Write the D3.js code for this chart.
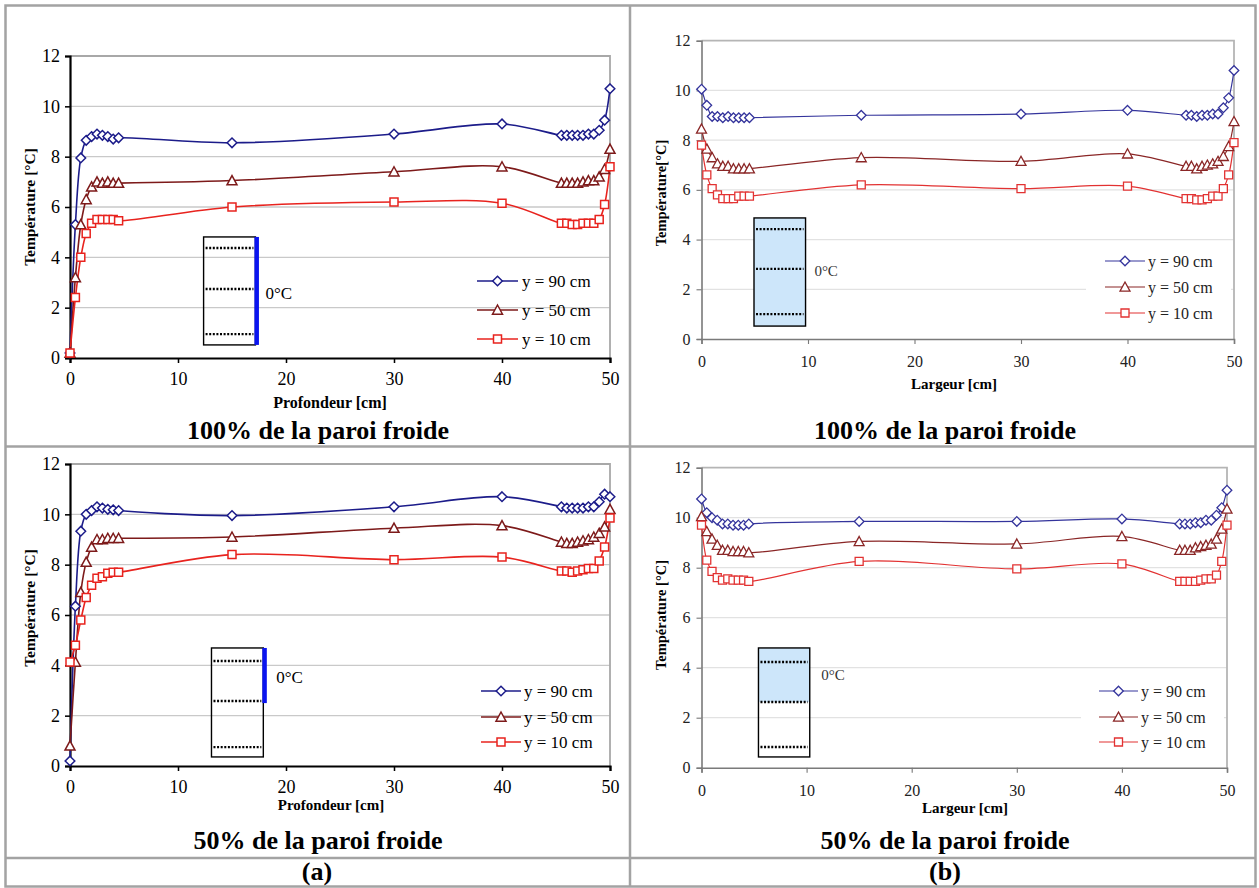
<!DOCTYPE html>
<html>
<head>
<meta charset="utf-8">
<script src="https://cdn.jsdelivr.net/npm/d3@7"></script>
<style>
  html, body { margin: 0; padding: 0; background: #fff; }
  svg { display: block; }
  svg text { font-family: "Liberation Serif", "Times New Roman", Times, "DejaVu Serif", serif; }
</style>
</head>
<body>
<svg id="chart" width="1259" height="888"></svg>
<script>
// ---------------- DATA ----------------
const xPositions = [0, 0.5, 1, 1.5, 2, 2.5, 3, 3.5, 4, 4.5, 15, 30, 40, 45.5, 46, 46.5, 47, 47.5, 48, 48.5, 49, 49.5, 50];
const yTicks = [0, 2, 4, 6, 8, 10, 12];
const xTicks = [0, 10, 20, 30, 40, 50];
const seriesNames = ["y = 90 cm", "y = 50 cm", "y = 10 cm"];

// (a) Profondeur, 100% de la paroi froide
const a100_y90 = [0.2, 5.3, 7.95, 8.65, 8.8, 8.9, 8.85, 8.8, 8.7, 8.75, 8.55, 8.9, 9.3, 8.85, 8.85, 8.85, 8.85, 8.85, 8.9, 8.9, 9.05, 9.45, 10.7];
const a100_y50 = [0.2, 3.2, 5.3, 6.3, 6.8, 7.0, 6.95, 7.0, 6.95, 6.95, 7.05, 7.4, 7.6, 6.95, 6.95, 6.95, 6.95, 7.0, 7.05, 7.05, 7.2, 7.5, 8.3];
const a100_y10 = [0.2, 2.4, 4.0, 4.95, 5.35, 5.5, 5.5, 5.5, 5.5, 5.45, 6.0, 6.2, 6.15, 5.35, 5.35, 5.3, 5.3, 5.35, 5.35, 5.35, 5.5, 6.1, 7.6];

// (b) Largeur, 100% de la paroi froide
const b100_y90 = [10.05, 9.4, 8.95, 8.95, 8.9, 8.95, 8.9, 8.9, 8.9, 8.9, 9.0, 9.05, 9.2, 9.0, 9.0, 8.95, 9.0, 9.0, 9.05, 9.05, 9.3, 9.7, 10.8];
const b100_y50 = [8.45, 7.65, 7.3, 7.05, 6.95, 6.95, 6.85, 6.85, 6.85, 6.85, 7.3, 7.15, 7.45, 6.95, 6.95, 6.85, 6.95, 7.0, 7.05, 7.15, 7.35, 7.75, 8.75];
const b100_y10 = [7.8, 6.6, 6.05, 5.8, 5.65, 5.65, 5.65, 5.75, 5.75, 5.75, 6.2, 6.05, 6.15, 5.65, 5.65, 5.6, 5.6, 5.65, 5.75, 5.75, 6.05, 6.6, 7.9];

// (a) Profondeur, 50% de la paroi froide
const a50_y90 = [0.2, 6.35, 9.33, 10.0, 10.15, 10.3, 10.25, 10.2, 10.18, 10.15, 9.95, 10.3, 10.7, 10.3, 10.25, 10.25, 10.25, 10.25, 10.3, 10.3, 10.5, 10.8, 10.7];
const a50_y50 = [0.8, 4.13, 6.9, 8.1, 8.7, 9.0, 9.0, 9.05, 9.05, 9.05, 9.1, 9.45, 9.55, 8.9, 8.85, 8.85, 8.9, 8.95, 9.0, 9.1, 9.25, 9.5, 10.2];
const a50_y10 = [4.13, 4.8, 5.8, 6.7, 7.18, 7.46, 7.52, 7.66, 7.7, 7.7, 8.4, 8.2, 8.3, 7.75, 7.75, 7.7, 7.75, 7.8, 7.85, 7.85, 8.15, 8.7, 9.85];

// (b) Largeur, 50% de la paroi froide
const b50_y90 = [10.75, 10.2, 10.0, 9.9, 9.75, 9.75, 9.7, 9.7, 9.7, 9.75, 9.85, 9.85, 9.95, 9.75, 9.75, 9.75, 9.8, 9.8, 9.9, 9.9, 10.1, 10.4, 11.1];
const b50_y50 = [10.05, 9.45, 9.15, 8.9, 8.7, 8.7, 8.65, 8.65, 8.65, 8.6, 9.05, 8.95, 9.25, 8.7, 8.7, 8.7, 8.8, 8.85, 8.9, 8.95, 9.15, 9.55, 10.35];
const b50_y10 = [9.7, 8.3, 7.85, 7.6, 7.5, 7.55, 7.5, 7.5, 7.5, 7.45, 8.25, 7.95, 8.15, 7.45, 7.45, 7.45, 7.45, 7.5, 7.55, 7.55, 7.7, 8.25, 9.7];

// ---------------- LAYOUT ----------------
const svg = d3.select("#chart");
const FONT = '"Liberation Serif", "Times New Roman", Times, "DejaVu Serif", serif';

// table frame
const frame = svg.append("g").attr("stroke", "#a3a3a3").attr("stroke-width", 2.5).attr("fill", "none");
frame.append("rect").attr("x", 5.5).attr("y", 5.5).attr("width", 1250).attr("height", 881);
frame.append("line").attr("x1", 630).attr("x2", 630).attr("y1", 5).attr("y2", 887);
frame.append("line").attr("x1", 5).attr("x2", 1256).attr("y1", 446.5).attr("y2", 446.5);
frame.append("line").attr("x1", 5).attr("x2", 1256).attr("y1", 858).attr("y2", 858);

const styles = {
  a: { colors: ["#1c1c8a", "#7d1a1a", "#e8231e"], lw: 1.6, axis: "#000", axisW: 2.2, border: "#a8a8a8",
       grid: "#c9c9c9", tickFont: 18, tickColor: "#000", legendFont: 17, markerW: 1.5 },
  b: { colors: ["#34349c", "#8a2626", "#e23232"], lw: 1.2, axis: "#7a7a7a", axisW: 1.6, border: "#b5b5b5",
       grid: "#e2e2e2", tickFont: 16, tickColor: "#222", legendFont: 16, markerW: 1.3 }
};

const panels = [
  { style: "a", left: 70, right: 610, top: 56, bottom: 358, series: [a100_y90, a100_y50, a100_y10],
    xTitle: "Profondeur [cm]", xTitleX: 330, xTitleY: 408, xTitleSize: 16,
    yTitle: "Température  [°C]", yTitleX: 30, yTitleY: 207,
    subtitle: "100% de la paroi froide", subX: 318, subY: 439,
    legend: { x1: 477, x2: 518, tx: 522, rows: [281, 310, 339], bg: null },
    inset: { x0: 12.37, x1: 17.17, y0: 0.52, y1: 4.81, dots: [4.37, 2.74, 0.95], fill: null,
             bar: [0.52, 4.81], labelX: 18.1, labelY: 2.6 } },
  { style: "b", left: 701.5, right: 1234, top: 40.7, bottom: 339, series: [b100_y90, b100_y50, b100_y10],
    xTitle: "Largeur [cm]", xTitleX: 954, xTitleY: 389, xTitleSize: 15,
    yTitle: "Température[°C]", yTitleX: 661, yTitleY: 193,
    subtitle: "100% de la paroi froide", subX: 945, subY: 439,
    legend: { x1: 1105, x2: 1145, tx: 1148, rows: [261, 287, 313], bg: [1086, 247, 145, 82] },
    inset: { x0: 4.93, x1: 9.77, y0: 0.52, y1: 4.87, dots: [4.42, 2.82, 1.0], fill: [0.52, 4.87],
             bar: null, labelX: 10.6, labelY: 2.75 } },
  { style: "a", left: 70, right: 610, top: 464, bottom: 766, series: [a50_y90, a50_y50, a50_y10],
    xTitle: "Profondeur [cm]", xTitleX: 331, xTitleY: 810, xTitleSize: 15,
    yTitle: "Température  [°C]", yTitleX: 30, yTitleY: 608,
    subtitle: "50% de la paroi froide", subX: 318, subY: 849,
    legend: { x1: 481, x2: 521, tx: 524, rows: [691, 717, 742], bg: null },
    inset: { x0: 13.1, x1: 17.9, y0: 0.36, y1: 4.69, dots: [4.17, 2.58, 0.75], fill: null,
             bar: [2.5, 4.69], labelX: 19.1, labelY: 3.55 } },
  { style: "b", left: 701.5, right: 1227, top: 467.7, bottom: 767.7, series: [b50_y90, b50_y50, b50_y10],
    xTitle: "Largeur [cm]", xTitleX: 965, xTitleY: 813, xTitleSize: 15,
    yTitle: "Température [°C]", yTitleX: 661, yTitleY: 615,
    subtitle: "50% de la paroi froide", subX: 945, subY: 849,
    legend: { x1: 1099, x2: 1138, tx: 1141, rows: [691, 717, 742], bg: [1081, 677, 143, 79] },
    inset: { x0: 5.42, x1: 10.3, y0: 0.43, y1: 4.79, dots: [4.23, 2.63, 0.83], fill: [2.63, 4.79],
             bar: null, labelX: 11.4, labelY: 3.7 } }
];

const markerPaths = [
  "M0,-4.8L4.8,0L0,4.8L-4.8,0Z",      // diamond
  "M0,-5L5,4.2L-5,4.2Z",              // triangle
  "M-4,-4L4,-4L4,4L-4,4Z"             // square
];

function drawMarker(g, type, x, y, color, sw) {
  g.append("path").attr("d", markerPaths[type])
    .attr("transform", `translate(${x},${y})`)
    .attr("fill", "#fff").attr("stroke", color).attr("stroke-width", sw);
}

panels.forEach(p => {
  const st = styles[p.style];
  const g = svg.append("g").attr("font-family", FONT);
  const x = d3.scaleLinear().domain([0, 50]).range([p.left, p.right]);
  const y = d3.scaleLinear().domain([0, 12]).range([p.bottom, p.top]);

  // gridlines
  g.append("g").selectAll("line").data(yTicks.filter(t => t > 0 && t < 12)).join("line")
    .attr("x1", p.left).attr("x2", p.right)
    .attr("y1", d => y(d)).attr("y2", d => y(d))
    .attr("stroke", st.grid).attr("stroke-width", 1.3);

  // plot border top & right
  g.append("path").attr("d", `M${p.left},${p.top}H${p.right}V${p.bottom}`)
    .attr("fill", "none").attr("stroke", st.border).attr("stroke-width", 1.8);

  // legend background
  if (p.legend.bg) {
    g.append("rect").attr("x", p.legend.bg[0]).attr("y", p.legend.bg[1])
      .attr("width", p.legend.bg[2]).attr("height", p.legend.bg[3]).attr("fill", "#fff");
  }

  // inset
  const ins = p.inset;
  const ig = g.append("g");
  if (ins.fill) {
    ig.append("rect").attr("x", x(ins.x0)).attr("y", y(ins.fill[1]))
      .attr("width", x(ins.x1) - x(ins.x0)).attr("height", y(ins.fill[0]) - y(ins.fill[1]))
      .attr("fill", "#cde6fa");
  }
  ig.append("rect").attr("x", x(ins.x0)).attr("y", y(ins.y1))
    .attr("width", x(ins.x1) - x(ins.x0)).attr("height", y(ins.y0) - y(ins.y1))
    .attr("fill", "none").attr("stroke", "#000").attr("stroke-width", 1.4);
  ins.dots.forEach(v => {
    ig.append("line").attr("x1", x(ins.x0) + 2).attr("x2", x(ins.x1) - 2)
      .attr("y1", y(v)).attr("y2", y(v))
      .attr("stroke", "#000").attr("stroke-width", 2.4).attr("stroke-dasharray", "2,1.6");
  });
  if (ins.bar) {
    ig.append("rect").attr("x", x(ins.x1) - 1).attr("y", y(ins.bar[1]))
      .attr("width", 4.5).attr("height", y(ins.bar[0]) - y(ins.bar[1]))
      .attr("fill", "#0a14f0");
  }
  ig.append("text").attr("x", x(ins.labelX)).attr("y", y(ins.labelY))
    .attr("dy", "0.35em").attr("font-size", p.style === "a" ? 17 : 15)
    .attr("fill", p.style === "a" ? "#000" : "#333").text("0°C");

  // axes
  const yAxis = d3.axisLeft(y).tickValues(yTicks).tickSize(5)
    .tickPadding(p.style === "a" ? 5 : 6).tickFormat(d3.format("d"));
  const xAxis = d3.axisBottom(x).tickValues(xTicks).tickSize(5)
    .tickPadding(p.style === "a" ? 9 : 12).tickFormat(d3.format("d"));
  const ya = g.append("g").attr("transform", `translate(${p.left},0)`).call(yAxis);
  const xa = g.append("g").attr("transform", `translate(0,${p.bottom})`).call(xAxis);
  [ya, xa].forEach(a => {
    a.attr("font-family", FONT).attr("font-size", st.tickFont);
    a.select(".domain").attr("stroke", st.axis).attr("stroke-width", st.axisW);
    a.selectAll(".tick line").attr("stroke", st.axis).attr("stroke-width", st.axisW * 0.7);
    a.selectAll(".tick text").attr("font-family", FONT).attr("font-size", st.tickFont).attr("fill", st.tickColor);
  });

  // series
  const line = d3.line().x((d, i) => x(xPositions[i])).y(d => y(d)).curve(d3.curveCatmullRom.alpha(0.5));
  p.series.forEach((vals, si) => {
    g.append("path").attr("d", line(vals)).attr("fill", "none")
      .attr("stroke", st.colors[si]).attr("stroke-width", st.lw);
  });
  p.series.forEach((vals, si) => {
    vals.forEach((v, i) => drawMarker(g, si, x(xPositions[i]), y(v), st.colors[si], st.markerW));
  });

  // legend
  seriesNames.forEach((name, si) => {
    const ry = p.legend.rows[si];
    g.append("line").attr("x1", p.legend.x1).attr("x2", p.legend.x2).attr("y1", ry).attr("y2", ry)
      .attr("stroke", st.colors[si]).attr("stroke-width", st.lw);
    drawMarker(g, si, (p.legend.x1 + p.legend.x2) / 2, ry, st.colors[si], st.markerW);
    g.append("text").attr("x", p.legend.tx).attr("y", ry).attr("dy", "0.35em")
      .attr("font-size", st.legendFont).attr("fill", st.tickColor).text(name);
  });

  // titles
  g.append("text").attr("x", p.xTitleX).attr("y", p.xTitleY).attr("text-anchor", "middle")
    .attr("font-weight", "bold").attr("font-size", p.xTitleSize).text(p.xTitle);
  g.append("text").attr("transform", `translate(${p.yTitleX},${p.yTitleY}) rotate(-90)`)
    .attr("text-anchor", "middle").attr("dy", "0.35em")
    .attr("font-weight", "bold").attr("font-size", p.style === "a" ? 15.5 : 14.5).text(p.yTitle);
  g.append("text").attr("x", p.subX).attr("y", p.subY).attr("text-anchor", "middle")
    .attr("font-weight", "bold").attr("font-size", 26).text(p.subtitle);
});

// bottom row labels
svg.append("text").attr("x", 317).attr("y", 880).attr("text-anchor", "middle").attr("font-family", FONT)
  .attr("font-weight", "bold").attr("font-size", 26).text("(a)");
svg.append("text").attr("x", 945).attr("y", 880).attr("text-anchor", "middle").attr("font-family", FONT)
  .attr("font-weight", "bold").attr("font-size", 26).text("(b)");
</script>
</body>
</html>
